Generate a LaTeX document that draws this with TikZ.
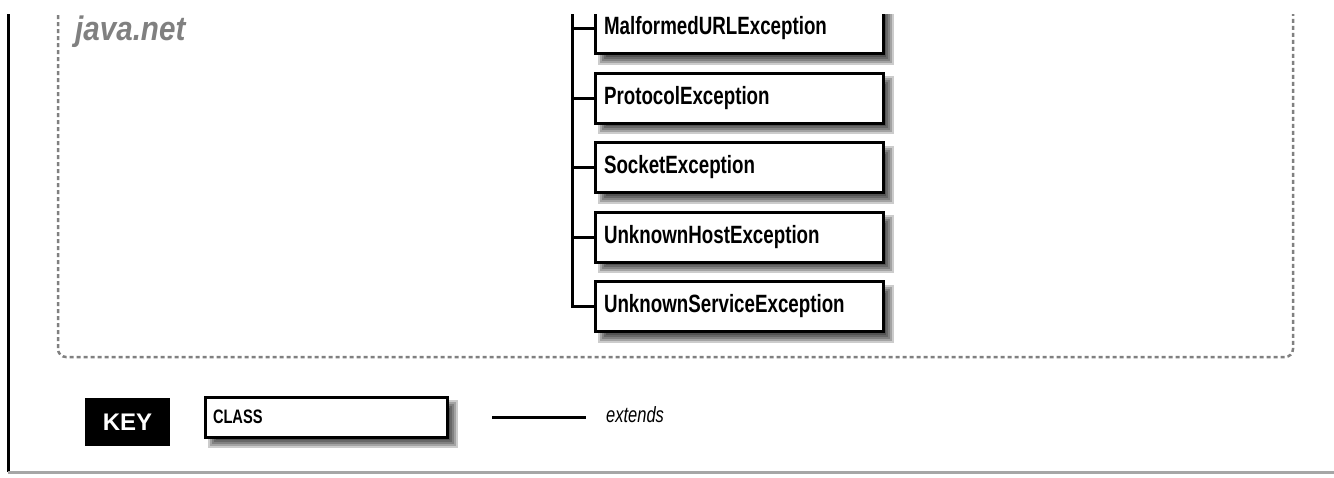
\documentclass[tikz,border=0pt]{standalone}
\usepackage{fontspec}
\setmainfont{Liberation Sans}
\newfontfamily\condfont[FakeStretch=0.75]{Liberation Sans}
\newfontfamily\pkgfont[FakeStretch=0.87]{Liberation Sans}
\newcommand\boxshadow[4]{%
  \foreach \e in {0,2,4,6,8}{%
    \fill[black,opacity=0.2] (#1+11-\e,#2+11-\e) rectangle (#1+#3+3+\e,#2+#4+3+\e);}}
\begin{document}
\begin{tikzpicture}[x=1pt,y=-1pt,
  cls/.style={draw, line width=3pt, fill=white, minimum height=50pt,
    text width=270pt, inner xsep=9pt, inner ysep=0pt, outer sep=0pt,
    align=left, anchor=north west,
    font=\condfont\bfseries\fontsize{25}{25}\selectfont},
  keycls/.style={cls, minimum height=40pt, text width=226pt, inner xsep=8pt,
    font=\condfont\bfseries\fontsize{19.5}{19.5}\selectfont},
  conn/.style={line width=3pt},
  frame/.style={black!50, line width=2.5pt, dash pattern=on 4pt off 3pt, rounded corners=8pt}]
\useasboundingbox (0,0) rectangle (1334,477);
\fill[white] (0,0) rectangle (1334,477);
\begin{scope}
\clip (0,14) rectangle (1334,477);
% page borders
\draw[line width=3pt] (8,0) -- (8,472);
\draw[gray!70, line width=3pt] (8,472) -- (1334,472);
% package frame
\draw[frame] (58,-20) |- (1293,357) -- (1293,-20);
\node[anchor=base west, inner sep=0pt, text=black!50,
  font=\pkgfont\bfseries\itshape\fontsize{34}{34}\selectfont] (pkg) at (75,40) {java.net};
% shadows
\boxshadow{595}{3.5}{288}{50}
\boxshadow{595}{73}{288}{50}
\boxshadow{595}{142.5}{288}{50}
\boxshadow{595}{212}{288}{50}
\boxshadow{595}{281.5}{288}{50}
\boxshadow{205}{397}{242}{40}
% class boxes
\node[cls] (b1) at (595,3.5) {MalformedURLException};
\node[cls] (b2) at (595,73) {ProtocolException};
\node[cls] (b3) at (595,142.5) {SocketException};
\node[cls] (b4) at (595,212) {UnknownHostException};
\node[cls] (b5) at (595,281.5) {UnknownServiceException};
% tree connectors
\coordinate (trunk) at (572,-10);
\draw[conn] (trunk) |- (b5.west);
\draw[conn] (trunk |- b1.west) -- (b1.west);
\draw[conn] (trunk |- b2.west) -- (b2.west);
\draw[conn] (trunk |- b3.west) -- (b3.west);
\draw[conn] (trunk |- b4.west) -- (b4.west);
% key
\node[fill=black, text=white, minimum width=85pt, minimum height=48pt, inner sep=0pt,
  font=\bfseries\fontsize{24}{24}\selectfont] (key) at (127.5,422) {KEY};
\node[keycls] (kc) at (205,397) {CLASS};
\coordinate (e1) at (492,417);
\coordinate (e2) at (586,417);
\draw[conn] (e1) -- (e2);
\node[anchor=west, inner sep=0pt,
  font=\condfont\itshape\fontsize{22}{22}\selectfont] (ext) at (606,415) {extends};
\end{scope}
\end{tikzpicture}
\end{document}
